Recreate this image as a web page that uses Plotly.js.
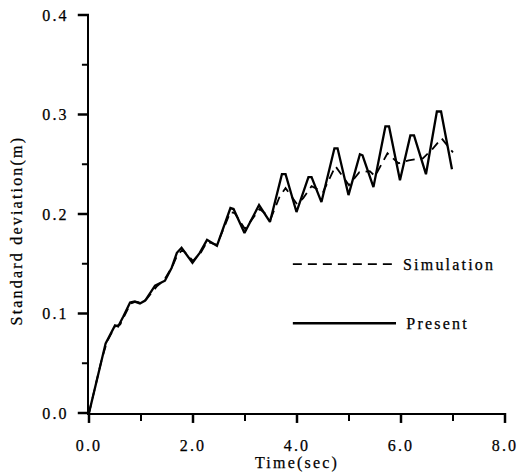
<!DOCTYPE html>
<html>
<head>
<meta charset="utf-8">
<script src="https://cdn.plot.ly/plotly-3.0.1.min.js"></script>
<style>
html, body { margin: 0; padding: 0; background: #fff; }
#chart { width: 517px; height: 473px; }
#chart text { letter-spacing: 2.2px; stroke: #000; stroke-width: 0.25px; }
</style>
</head>
<body>
<div id="chart"></div>
<script>
// Present (solid line)
const presentTime = [0, 0.15, 0.23, 0.32, 0.5, 0.56, 0.66, 0.79, 0.88, 0.98, 1.08, 1.27, 1.46, 1.59, 1.69, 1.78, 1.99, 2.13, 2.27, 2.46, 2.72, 2.78, 2.99, 3.27, 3.48, 3.71, 3.78, 3.99, 4.22, 4.28, 4.47, 4.72, 4.78, 4.99, 5.21, 5.26, 5.47, 5.70, 5.77, 5.98, 6.18, 6.25, 6.48, 6.69, 6.77, 6.98];
const presentStd  = [0, 0.033, 0.053, 0.070, 0.088, 0.087, 0.097, 0.111, 0.112, 0.110, 0.113, 0.128, 0.133, 0.146, 0.161, 0.166, 0.151, 0.161, 0.174, 0.168, 0.206, 0.205, 0.181, 0.209, 0.192, 0.240, 0.240, 0.202, 0.237, 0.237, 0.212, 0.266, 0.266, 0.219, 0.260, 0.259, 0.227, 0.288, 0.288, 0.234, 0.279, 0.279, 0.240, 0.303, 0.303, 0.245];

// Simulation (dashed line)
const simTime = [0, 0.15, 0.25, 0.35, 0.5, 0.6, 0.7, 0.8, 0.9, 1.0, 1.1, 1.3, 1.45, 1.6, 1.7, 1.8, 2.0, 2.15, 2.27, 2.46, 2.72, 2.8, 3.0, 3.28, 3.5, 3.67, 3.78, 4.0, 4.12, 4.28, 4.5, 4.6, 4.74, 5.0, 5.2, 5.4, 5.5, 5.74, 5.95, 6.15, 6.42, 6.6, 6.78, 6.95, 7.0];
const simStd  = [0, 0.032, 0.055, 0.072, 0.087, 0.089, 0.099, 0.110, 0.112, 0.111, 0.114, 0.127, 0.134, 0.147, 0.159, 0.164, 0.153, 0.161, 0.172, 0.169, 0.202, 0.201, 0.185, 0.205, 0.196, 0.218, 0.226, 0.210, 0.216, 0.228, 0.222, 0.233, 0.248, 0.229, 0.242, 0.243, 0.238, 0.261, 0.251, 0.254, 0.256, 0.265, 0.276, 0.265, 0.262];

const legendNames = ["Simulation", "Present"];
const xRange = [0, 8];
const yRange = [0, 0.4];
const xTickVals = [0, 2, 4, 6, 8];
const xTickText = ["0.0", "2.0", "4.0", "6.0", "8.0"];
const xMinorVals = [1, 3, 5, 7];
const yTickVals = [0, 0.1, 0.2, 0.3, 0.4];
const yTickText = ["0.0", "0.1", "0.2", "0.3", "0.4"];
const yMinorVals = [0.05, 0.15, 0.25, 0.35];
const xTitle = "Time(sec)";
const yTitle = "Standard deviation(m)";

const serif = "'Liberation Serif', 'DejaVu Serif', serif";

const traces = [
  { x: simTime, y: simStd, mode: "lines", name: legendNames[0],
    line: { color: "#000", width: 1.8, dash: "9px,6px" } },
  { x: presentTime, y: presentStd, mode: "lines", name: legendNames[1],
    line: { color: "#000", width: 2.3 } }
];

// tick marks outside the axes (paper fractions derived from the axis ranges)
const fx = v => (v - xRange[0]) / (xRange[1] - xRange[0]);
const fy = v => (v - yRange[0]) / (yRange[1] - yRange[0]);
const tickShapes = [];
xTickVals.forEach(v => tickShapes.push({ type: "line", xref: "paper", yref: "paper", x0: fx(v), x1: fx(v), y0: 0, y1: -0.025, line: { color: "#000", width: 2.5 } }));
xMinorVals.forEach(v => tickShapes.push({ type: "line", xref: "paper", yref: "paper", x0: fx(v), x1: fx(v), y0: 0, y1: -0.02, line: { color: "#000", width: 2 } }));
yTickVals.forEach(v => tickShapes.push({ type: "line", xref: "paper", yref: "paper", x0: 0, x1: -0.027, y0: fy(v), y1: fy(v), line: { color: "#000", width: 2.5 } }));
yMinorVals.forEach(v => tickShapes.push({ type: "line", xref: "paper", yref: "paper", x0: 0, x1: -0.017, y0: fy(v), y1: fy(v), line: { color: "#000", width: 2 } }));

const layout = {
  width: 517, height: 473,
  margin: { l: 89, r: 12, t: 15, b: 60 },
  paper_bgcolor: "#fff", plot_bgcolor: "#fff",
  showlegend: false,
  font: { family: serif, size: 16, color: "#000" },
  xaxis: {
    range: xRange, tickmode: "array", tickvals: xTickVals, ticktext: xTickText,
    showgrid: false, zeroline: false, showline: true, linecolor: "#000", linewidth: 2,
    ticks: "", ticklabelstandoff: 17,
    tickfont: { family: serif, size: 16, color: "#000" },
    title: { text: xTitle, font: { family: serif, size: 16, color: "#000" }, standoff: 4 }
  },
  yaxis: {
    range: yRange, tickmode: "array", tickvals: yTickVals, ticktext: yTickText,
    showgrid: false, zeroline: false, showline: true, linecolor: "#000", linewidth: 2,
    ticks: "", ticklabelstandoff: 15,
    tickfont: { family: serif, size: 16, color: "#000" }
  },
  shapes: tickShapes.concat([
    { type: "line", xref: "paper", yref: "paper", x0: 0.490, x1: 0.736, y0: 0.374, y1: 0.374,
      line: { color: "#000", width: 1.8, dash: "9px,6px" } },
    { type: "line", xref: "paper", yref: "paper", x0: 0.490, x1: 0.738, y0: 0.2255, y1: 0.2255,
      line: { color: "#000", width: 2.3 } }
  ]),
  annotations: [
    { xref: "paper", yref: "paper", x: 0.776, y: 0.374, xanchor: "left", yanchor: "middle",
      text: legendNames[0], showarrow: false, font: { family: serif, size: 16, color: "#000" } },
    { xref: "paper", yref: "paper", x: 0.776, y: 0.2255, xanchor: "left", yanchor: "middle",
      text: legendNames[1], showarrow: false, font: { family: serif, size: 16, color: "#000" } },
    { xref: "paper", yref: "paper", x: -0.173, y: 0.459, xanchor: "center", yanchor: "middle",
      textangle: -90, text: yTitle, showarrow: false, font: { family: serif, size: 16, color: "#000" } }
  ]
};

Plotly.newPlot("chart", traces, layout, { displayModeBar: false, staticPlot: true });
</script>
</body>
</html>
